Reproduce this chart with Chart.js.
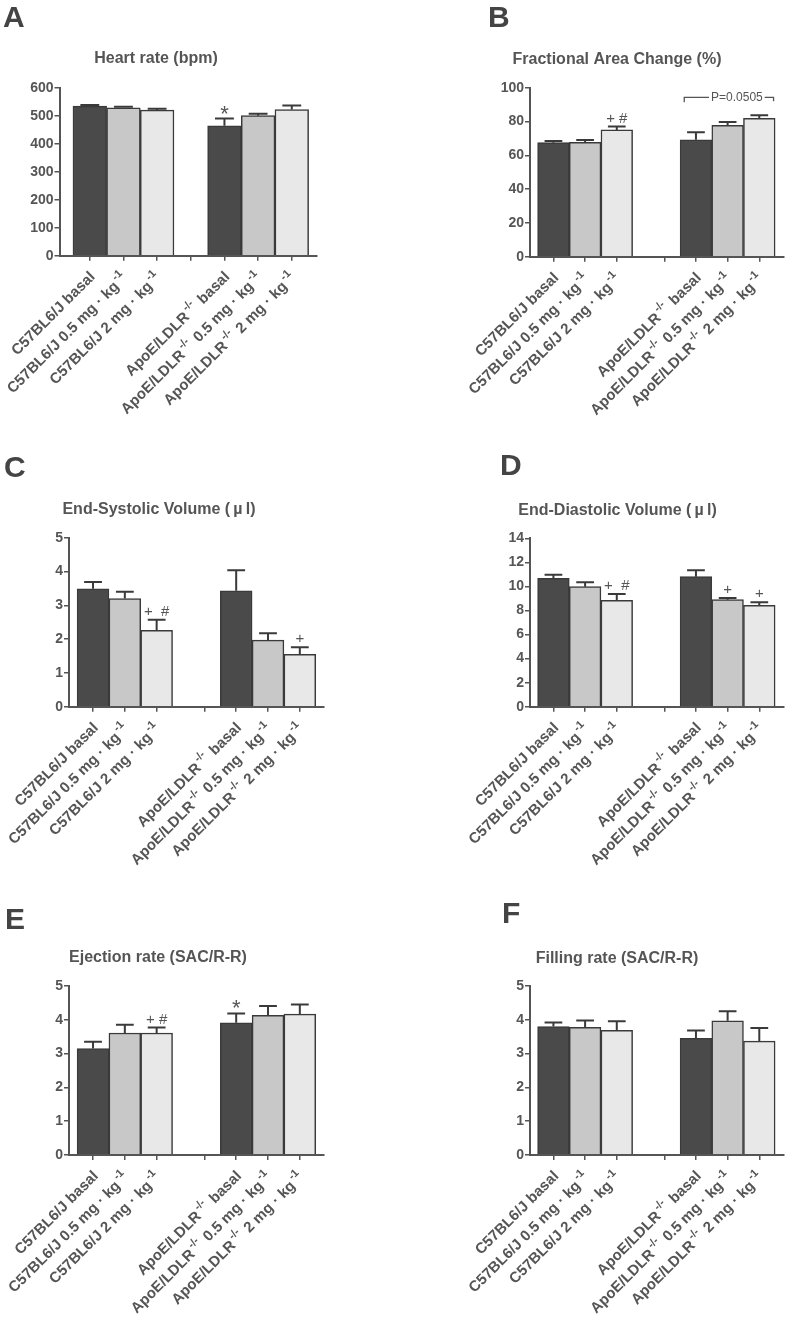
<!DOCTYPE html>
<html>
<head>
<meta charset="utf-8">
<script src="https://cdn.jsdelivr.net/npm/chart.js@4.4.1/dist/chart.umd.min.js"></script>
<style>
  body { margin: 0; background: #fff; width: 787px; height: 1318px; position: relative; overflow: hidden; }
  canvas { position: absolute; }
</style>
</head>
<body>
<canvas id="cA"></canvas>
<canvas id="cB"></canvas>
<canvas id="cC"></canvas>
<canvas id="cD"></canvas>
<canvas id="cE"></canvas>
<canvas id="cF"></canvas>
<script>
// groups on the x axis (^{..} = superscript)
const categories = [
  'C57BL6/J basal',
  'C57BL6/J 0.5 mg · kg^{-1}',
  'C57BL6/J 2 mg · kg^{-1}',
  'ApoE/LDLR^{-/-} basal',
  'ApoE/LDLR^{-/-} 0.5 mg · kg^{-1}',
  'ApoE/LDLR^{-/-} 2 mg · kg^{-1}'
];

// A - heart rate
const heartRate = [534, 528, 520, 464, 500, 522];
const heartRateSem = [4, 4, 5, 26, 7, 14];
const heartRateMarks = ['', '', '', '*', '', ''];

// B - fractional area change
const fac = [67.5, 67.7, 75.0, 69.2, 77.7, 81.9];
const facSem = [1.0, 1.4, 2.0, 4.4, 2.0, 1.8];
const facMarks = ['', '', '+ #', '', '', ''];
const facBracket = { from: 3, to: 5, y: 94.3, text: 'P=0.0505' };

// C - end-systolic volume
const esv = [3.49, 3.20, 2.26, 3.43, 1.97, 1.55];
const esvSem = [0.20, 0.20, 0.31, 0.61, 0.20, 0.21];
const esvMarks = ['', '', '+  #', '', '', '+'];

// D - end-diastolic volume
const edv = [10.67, 9.98, 8.84, 10.81, 8.90, 8.43];
const edvSem = [0.30, 0.36, 0.53, 0.53, 0.14, 0.25];
const edvMarks = ['', '', '+  #', '', '+', '+'];

// E - ejection rate
const ejection = [3.15, 3.61, 3.61, 3.91, 4.13, 4.17];
const ejectionSem = [0.20, 0.24, 0.16, 0.28, 0.28, 0.28];
const ejectionMarks = ['', '', '+ #', '*', '', ''];

// F - filling rate
const filling = [3.80, 3.78, 3.69, 3.45, 3.97, 3.37];
const fillingSem = [0.12, 0.20, 0.27, 0.23, 0.28, 0.39];
const fillingMarks = ['', '', '', '', '', ''];

const FONT = "'Liberation Sans', Arial, sans-serif";
const textColor = '#555555';
const axisColor = '#555555';
const barBorder = '#3a3a3a';
const barColors = ['#4a4a4a', '#c8c8c8', '#e8e8e8', '#4a4a4a', '#c8c8c8', '#e8e8e8'];

// panel layout: canvas box [x, y, w, h], plot area [left, top, right, bottom] in page px
const panels = [
  { id: 'cA', letter: 'A', letterPos: [3, 27], title: 'Heart rate (bpm)', titlePos: [156, 59],
    box: [0, 0, 390, 440], area: [59.5, 87.7, 316.7, 255.7], gap: 1, xMin: -0.9, xMax: 6.74,
    values: heartRate, sem: heartRateSem, marks: heartRateMarks, yMax: 600, yStep: 100 },
  { id: 'cB', letter: 'B', letterPos: [488, 27], title: 'Fractional Area Change (%)', titlePos: [617, 60],
    box: [390, 0, 397, 440], area: [530, 87.7, 784, 256.7], gap: 1.5, xMin: -0.74, xMax: 7.28,
    values: fac, sem: facSem, marks: facMarks, yMax: 100, yStep: 20, bracket: facBracket },
  { id: 'cC', letter: 'C', letterPos: [4, 477], title: 'End-Systolic Volume (\u2009\u00b5\u2009l)', titlePos: [159, 510],
    box: [0, 440, 390, 440], area: [69, 537.7, 324, 706.7], gap: 1.5, xMin: -0.755, xMax: 7.26,
    values: esv, sem: esvSem, marks: esvMarks, yMax: 5, yStep: 1 },
  { id: 'cD', letter: 'D', letterPos: [500, 475], title: 'End-Diastolic Volume (\u2009\u00b5\u2009l)', titlePos: [617.5, 511],
    box: [390, 440, 397, 440], area: [530, 538.3, 784, 706.7], gap: 1.5, xMin: -0.74, xMax: 7.28,
    values: edv, sem: edvSem, marks: edvMarks, yMax: 14, yStep: 2 },
  { id: 'cE', letter: 'E', letterPos: [5, 929], title: 'Ejection rate (SAC/R-R)', titlePos: [158, 958],
    box: [0, 880, 390, 438], area: [69, 986, 324, 1155], gap: 1.5, xMin: -0.755, xMax: 7.26,
    values: ejection, sem: ejectionSem, marks: ejectionMarks, yMax: 5, yStep: 1 },
  { id: 'cF', letter: 'F', letterPos: [502, 923], title: 'Filling rate (SAC/R-R)', titlePos: [617, 959],
    box: [390, 880, 397, 438], area: [530, 986, 784, 1155], gap: 1.5, xMin: -0.74, xMax: 7.28,
    values: filling, sem: fillingSem, marks: fillingMarks, yMax: 5, yStep: 1 }
];

function splitSup(text) {
  const parts = [];
  const re = /\^\{([^}]*)\}/g;
  let last = 0, m;
  while ((m = re.exec(text)) !== null) {
    if (m.index > last) parts.push({ t: text.slice(last, m.index), sup: false });
    parts.push({ t: m[1], sup: true });
    last = re.lastIndex;
  }
  if (last < text.length) parts.push({ t: text.slice(last), sup: false });
  return parts;
}

function drawRotatedLabel(ctx, text, x, y) {
  const parts = splitSup(text);
  const mainFont = 'bold 15px ' + FONT;
  const supFont = 'bold 11px ' + FONT;
  const supPad = 2;
  let total = 0;
  parts.forEach(p => {
    ctx.font = p.sup ? supFont : mainFont;
    p.w = ctx.measureText(p.t).width + (p.sup ? 2 * supPad : 0);
    total += p.w;
  });
  ctx.save();
  ctx.translate(x, y);
  ctx.rotate(-Math.PI / 4);
  ctx.fillStyle = textColor;
  ctx.textBaseline = 'middle';
  ctx.textAlign = 'left';
  let cx = -total;
  parts.forEach(p => {
    ctx.font = p.sup ? supFont : mainFont;
    ctx.fillText(p.t, cx + (p.sup ? supPad : 0), p.sup ? -6 : 0);
    cx += p.w;
  });
  ctx.restore();
}

function makePanel(p) {
  const canvas = document.getElementById(p.id);
  const [bx, by, bw, bh] = p.box;
  const [al, at, ar, ab] = p.area;
  canvas.width = bw; canvas.height = bh;
  canvas.style.left = bx + 'px'; canvas.style.top = by + 'px';
  canvas.style.width = bw + 'px'; canvas.style.height = bh + 'px';

  const xAxisH = 6;
  const xs = p.values.map((v, i) => i < 3 ? i : i + p.gap);
  const tickPos = [0, 1, 2, xs[3] - 1, xs[3], xs[4], xs[5]];

  const decor = {
    id: 'decor' + p.letter,
    afterDatasetsDraw(chart) {
      const ctx = chart.ctx;
      const yS = chart.scales.y;
      const bars = chart.getDatasetMeta(0).data;
      ctx.save();
      // error bars (upper SEM only)
      ctx.strokeStyle = barBorder;
      ctx.lineWidth = 2;
      bars.forEach((bar, i) => {
        const y0 = yS.getPixelForValue(p.values[i]);
        const y1 = yS.getPixelForValue(p.values[i] + p.sem[i]);
        const hw = bar.width * 0.28;
        ctx.beginPath();
        ctx.moveTo(bar.x, y0); ctx.lineTo(bar.x, y1);
        ctx.moveTo(bar.x - hw, y1); ctx.lineTo(bar.x + hw, y1);
        ctx.stroke();
        const mk = p.marks[i];
        if (mk) {
          ctx.fillStyle = textColor;
          ctx.textAlign = 'center';
          ctx.textBaseline = 'alphabetic';
          if (mk === '*') {
            ctx.font = '22px ' + FONT;
            ctx.fillText(mk, bar.x, y1 + 2);
          } else {
            ctx.font = '15px ' + FONT;
            ctx.fillText(mk, bar.x, y1 - 4);
          }
        }
      });
      // significance bracket
      if (p.bracket) {
        const b = p.bracket;
        const bl = bars[b.from], br = bars[b.to];
        const left = bl.x - bl.width * 0.37;
        const right = br.x + br.width * 0.45;
        const yb = yS.getPixelForValue(b.y);
        ctx.font = '12px ' + FONT;
        const tw = ctx.measureText(b.text).width;
        const tx = left + (right - left) * 0.3;
        ctx.strokeStyle = textColor;
        ctx.lineWidth = 1.3;
        ctx.beginPath();
        ctx.moveTo(left, yb + 5); ctx.lineTo(left, yb); ctx.lineTo(tx - 2, yb);
        ctx.moveTo(tx + tw + 2, yb); ctx.lineTo(right, yb); ctx.lineTo(right, yb + 4);
        ctx.stroke();
        ctx.fillStyle = textColor;
        ctx.textAlign = 'left';
        ctx.textBaseline = 'middle';
        ctx.fillText(b.text, tx, yb + 0.5);
      }
      ctx.restore();
    },
    afterDraw(chart) {
      const ctx = chart.ctx;
      const xS = chart.scales.x;
      const bottom = chart.chartArea.bottom;
      ctx.save();
      categories.forEach((c, i) => {
        drawRotatedLabel(ctx, c, xS.getPixelForValue(xs[i]) + 3, bottom + 19);
      });
      ctx.fillStyle = textColor;
      ctx.font = 'bold 16px ' + FONT;
      ctx.textAlign = 'center';
      ctx.textBaseline = 'middle';
      ctx.fillText(p.title, p.titlePos[0] - bx, p.titlePos[1] - by);
      ctx.fillStyle = '#444444';
      ctx.font = 'bold 30px ' + FONT;
      ctx.textAlign = 'left';
      ctx.textBaseline = 'alphabetic';
      ctx.fillText(p.letter, p.letterPos[0] - bx, p.letterPos[1] - by);
      ctx.restore();
    }
  };

  return new Chart(canvas.getContext('2d'), {
    type: 'bar',
    data: {
      datasets: [{
        data: xs.map((x, i) => ({ x: x, y: p.values[i] })),
        backgroundColor: barColors,
        borderColor: barBorder,
        borderWidth: 1.5,
        barPercentage: 1,
        categoryPercentage: 1
      }]
    },
    options: {
      responsive: false,
      animation: false,
      events: [],
      layout: { padding: { left: 0, top: at - by, right: bx + bw - ar, bottom: by + bh - ab - xAxisH } },
      plugins: { legend: { display: false }, tooltip: { enabled: false } },
      scales: {
        x: {
          type: 'linear',
          offset: false,
          min: p.xMin,
          max: p.xMax,
          afterBuildTicks: s => { s.ticks = tickPos.map(v => ({ value: v })); },
          afterFit: s => { s.height = xAxisH; },
          ticks: { display: false },
          grid: { offset: false, drawOnChartArea: false, drawTicks: true, tickLength: 5, color: axisColor, lineWidth: 1.5 },
          border: { color: axisColor, width: 2, z: 1 }
        },
        y: {
          min: 0,
          max: p.yMax,
          afterFit: s => { s.width = al - bx; },
          ticks: { stepSize: p.yStep, padding: 1, color: textColor, font: { family: FONT, size: 14, weight: 'bold' } },
          grid: { drawOnChartArea: false, tickLength: 5, color: axisColor, lineWidth: 1.5 },
          border: { color: axisColor, width: 2, z: 1 }
        }
      }
    },
    plugins: [decor]
  });
}

panels.forEach(makePanel);
</script>
</body>
</html>
